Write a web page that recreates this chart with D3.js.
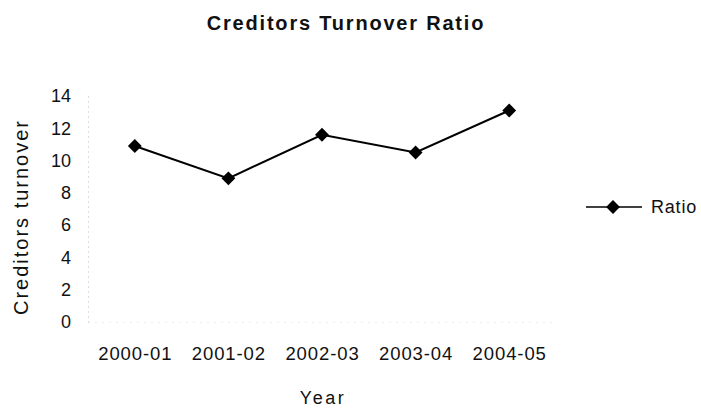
<!DOCTYPE html>
<html>
<head>
<meta charset="utf-8">
<script src="https://cdn.jsdelivr.net/npm/d3@7"></script>
<style>
  html, body { margin: 0; padding: 0; background: #fff; }
  svg { display: block; font-family: "Liberation Sans", Arial, sans-serif; }
</style>
</head>
<body>
<svg id="chart" width="701" height="410"></svg>
<script>
const categories = ["2000-01", "2001-02", "2002-03", "2003-04", "2004-05"];
const ratioValues = [10.9, 8.9, 11.6, 10.5, 13.1];
const yTicks = [0, 2, 4, 6, 8, 10, 12, 14];
const seriesName = "Ratio";

const svg = d3.select("#chart");
const plotLeft = 88, plotRight = 556, plotTop = 96, plotBottom = 322;

const x = d3.scalePoint().domain(categories).range([plotLeft, plotRight]).padding(0.5);
const y = d3.scaleLinear().domain([0, 14]).range([plotBottom, plotTop]);

// Title
svg.append("text").attr("x", 346).attr("y", 30).attr("text-anchor", "middle")
  .attr("font-size", 20).attr("font-weight", "bold").attr("letter-spacing", 1.8)
  .attr("fill", "#111").text("Creditors Turnover Ratio");

// Y axis
const yAxis = d3.axisLeft(y).tickValues(yTicks).tickSize(0).tickPadding(17);
const gy = svg.append("g").attr("transform", `translate(${plotLeft},0)`).call(yAxis);
gy.select(".domain").attr("stroke", "#bbb").attr("stroke-dasharray", "1,4");
gy.selectAll("text").attr("font-size", 18).attr("fill", "#111")
  .attr("font-family", "Liberation Sans, Arial, sans-serif");

// X axis
const xAxis = d3.axisBottom(x).tickSize(0).tickPadding(25);
const gx = svg.append("g").attr("transform", `translate(0,${plotBottom})`).call(xAxis);
gx.select(".domain").attr("stroke", "#ddd").attr("stroke-dasharray", "1,6");
gx.selectAll("text").attr("font-size", 18.5).attr("letter-spacing", 0.9).attr("fill", "#111")
  .attr("font-family", "Liberation Sans, Arial, sans-serif");

// Axis titles
svg.append("text").attr("transform", "translate(28,217) rotate(-90)")
  .attr("text-anchor", "middle").attr("font-size", 20).attr("letter-spacing", 2)
  .attr("fill", "#111").text("Creditors turnover");
svg.append("text").attr("x", 323).attr("y", 404).attr("text-anchor", "middle")
  .attr("font-size", 18).attr("letter-spacing", 2.5).attr("fill", "#111").text("Year");

// Line
const line = d3.line().x((d, i) => x(categories[i])).y(d => y(d));
svg.append("path").datum(ratioValues).attr("d", line)
  .attr("fill", "none").attr("stroke", "#000").attr("stroke-width", 2);

// Markers
const diamond = d3.symbol().type(d3.symbolSquare).size(96);
svg.selectAll(".mk").data(ratioValues).join("path").attr("class", "mk")
  .attr("d", diamond)
  .attr("transform", (d, i) => `translate(${x(categories[i])},${y(d)}) rotate(45)`)
  .attr("fill", "#000");

// Legend
const lg = svg.append("g").attr("transform", "translate(586,207)");
lg.append("line").attr("x1", 0).attr("x2", 56).attr("y1", 0).attr("y2", 0)
  .attr("stroke", "#000").attr("stroke-width", 1.5);
lg.append("path").attr("d", diamond).attr("transform", "translate(27,0) rotate(45)").attr("fill", "#000");
lg.append("text").attr("x", 65).attr("y", 6).attr("font-size", 18).attr("letter-spacing", 0.8)
  .attr("fill", "#111").text(seriesName);
</script>
</body>
</html>
